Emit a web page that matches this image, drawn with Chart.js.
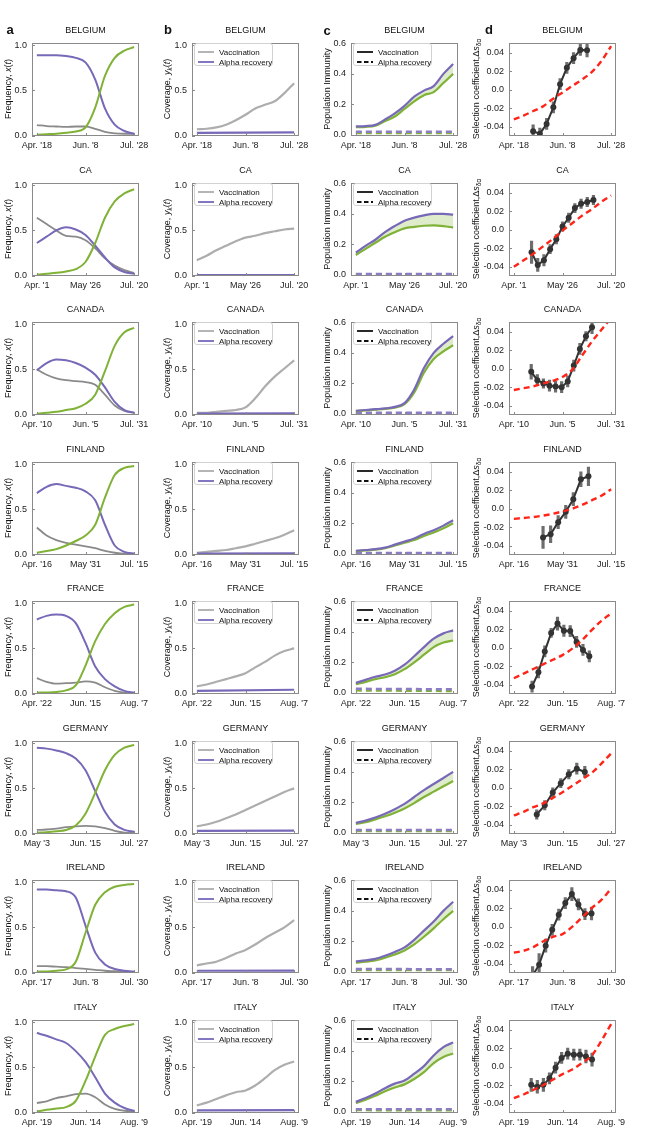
<!DOCTYPE html>
<html>
<head>
<meta charset="utf-8">
<script src="https://cdn.jsdelivr.net/npm/chart.js@4.4.1/dist/chart.umd.min.js"></script>
<style>
  body { margin: 0; background: #fff; width: 648px; height: 1134px; position: relative; overflow: hidden;
         font-family: "Liberation Sans", Arial, sans-serif; color: #111; }
  canvas { position: absolute; }
  .t { position: absolute; transform: translate(-50%, -50%); white-space: nowrap; font-size: 9px; }
  .yt { position: absolute; transform: translate(-50%, -50%) rotate(-90deg); white-space: nowrap; font-size: 9px; }
  .yt sub { font-size: 6.5px; vertical-align: -2px; }
  .letter { position: absolute; transform: translate(-50%, -50%); font-weight: bold; font-size: 13px; }
  .leg { position: absolute; box-sizing: border-box; border: 1px solid #d2d2d2; border-radius: 3px;
         background: rgba(255,255,255,0.85); width: 79px; height: 23px; font-size: 8px; }
  .leg svg { position: absolute; }
  .leg span { position: absolute; transform: translateY(-50%); white-space: nowrap; }
</style>
</head>
<body>
<script>
// countries (rows) and their date axes
const countries = ['BELGIUM', 'CA', 'CANADA', 'FINLAND', 'FRANCE', 'GERMANY', 'IRELAND', 'ITALY'];
const dateTicks = [
  ["Apr. '18", "Jun. '8", "Jul. '28"],
  ["Apr. '1", "May '26", "Jul. '20"],
  ["Apr. '10", "Jun. '5", "Jul. '31"],
  ["Apr. '16", "May '31", "Jul. '15"],
  ["Apr. '22", "Jun. '15", "Aug. '7"],
  ["May '3", "Jun. '15", "Jul. '27"],
  ["Apr. '17", "Jun. '8", "Jul. '30"],
  ["Apr. '19", "Jun. '14", "Aug. '9"]
];
const periodDays = [101, 110, 112, 90, 107, 85, 104, 112];

// sample positions, % of each country's period
const pct = [0, 10, 20, 30, 40, 50, 60, 70, 80, 90, 100];
const flatPct = [0, 100];

// a: variant frequencies
const freqOther = [
  [0.115, 0.105, 0.10, 0.095, 0.10, 0.10, 0.075, 0.04, 0.025, 0.02, 0.02],
  [0.64, 0.57, 0.50, 0.44, 0.43, 0.39, 0.30, 0.19, 0.11, 0.06, 0.03],
  [0.50, 0.44, 0.40, 0.38, 0.37, 0.36, 0.33, 0.22, 0.10, 0.04, 0.02],
  [0.30, 0.21, 0.16, 0.13, 0.11, 0.09, 0.07, 0.04, 0.02, 0.01, 0.01],
  [0.17, 0.13, 0.11, 0.115, 0.12, 0.135, 0.12, 0.07, 0.03, 0.01, 0.005],
  [0.04, 0.045, 0.055, 0.07, 0.08, 0.085, 0.08, 0.06, 0.03, 0.01, 0.005],
  [0.07, 0.07, 0.065, 0.06, 0.05, 0.04, 0.03, 0.02, 0.015, 0.01, 0.01],
  [0.105, 0.125, 0.16, 0.18, 0.205, 0.21, 0.17, 0.09, 0.04, 0.02, 0.012]
];
const freqAlpha = [
  [0.89, 0.89, 0.89, 0.88, 0.86, 0.81, 0.62, 0.30, 0.12, 0.05, 0.02],
  [0.36, 0.43, 0.50, 0.535, 0.51, 0.45, 0.33, 0.20, 0.09, 0.04, 0.02],
  [0.49, 0.57, 0.61, 0.60, 0.57, 0.52, 0.44, 0.30, 0.14, 0.05, 0.02],
  [0.68, 0.75, 0.78, 0.76, 0.74, 0.70, 0.60, 0.33, 0.10, 0.03, 0.01],
  [0.82, 0.86, 0.875, 0.86, 0.78, 0.56, 0.30, 0.16, 0.08, 0.03, 0.01],
  [0.95, 0.94, 0.92, 0.89, 0.83, 0.70, 0.47, 0.24, 0.10, 0.04, 0.02],
  [0.92, 0.92, 0.91, 0.90, 0.83, 0.52, 0.22, 0.09, 0.04, 0.02, 0.01],
  [0.88, 0.85, 0.81, 0.77, 0.68, 0.56, 0.39, 0.21, 0.11, 0.05, 0.02]
];
const freqDelta = [
  [0.01, 0.015, 0.02, 0.03, 0.045, 0.09, 0.31, 0.66, 0.86, 0.94, 0.98],
  [0.01, 0.02, 0.03, 0.045, 0.07, 0.15, 0.36, 0.64, 0.82, 0.91, 0.955],
  [0.01, 0.02, 0.03, 0.05, 0.07, 0.12, 0.22, 0.48, 0.76, 0.91, 0.96],
  [0.02, 0.04, 0.06, 0.10, 0.15, 0.21, 0.33, 0.63, 0.88, 0.96, 0.98],
  [0.01, 0.012, 0.018, 0.035, 0.09, 0.31, 0.58, 0.77, 0.89, 0.96, 0.985],
  [0.01, 0.015, 0.025, 0.04, 0.09, 0.22, 0.45, 0.70, 0.87, 0.95, 0.98],
  [0.01, 0.012, 0.02, 0.035, 0.12, 0.44, 0.75, 0.89, 0.95, 0.97, 0.98],
  [0.012, 0.03, 0.045, 0.06, 0.13, 0.35, 0.62, 0.86, 0.925, 0.957, 0.98]
];

// b: coverage
const vaccCov = [
  [0.07, 0.075, 0.09, 0.12, 0.17, 0.23, 0.30, 0.34, 0.38, 0.47, 0.58],
  [0.17, 0.22, 0.28, 0.33, 0.38, 0.42, 0.44, 0.47, 0.49, 0.51, 0.52],
  [0.02, 0.02, 0.03, 0.04, 0.05, 0.08, 0.18, 0.31, 0.42, 0.51, 0.60],
  [0.02, 0.03, 0.04, 0.05, 0.07, 0.09, 0.12, 0.15, 0.18, 0.22, 0.27],
  [0.08, 0.10, 0.13, 0.16, 0.19, 0.225, 0.29, 0.35, 0.42, 0.47, 0.50],
  [0.08, 0.10, 0.13, 0.17, 0.21, 0.26, 0.31, 0.36, 0.41, 0.46, 0.50],
  [0.08, 0.10, 0.12, 0.16, 0.21, 0.25, 0.31, 0.38, 0.44, 0.50, 0.58],
  [0.08, 0.11, 0.15, 0.19, 0.225, 0.245, 0.30, 0.38, 0.47, 0.53, 0.565]
];
const alphaCov = [
  [0.03, 0.035], [0.004, 0.004], [0.01, 0.012], [0.01, 0.012],
  [0.03, 0.042], [0.03, 0.032], [0.02, 0.022], [0.025, 0.027]
];

// c: population immunity
const immAlpha = [
  [0.055, 0.057, 0.065, 0.10, 0.14, 0.19, 0.25, 0.29, 0.32, 0.40, 0.465],
  [0.145, 0.19, 0.23, 0.28, 0.32, 0.355, 0.375, 0.39, 0.40, 0.40, 0.395],
  [0.02, 0.025, 0.03, 0.035, 0.045, 0.07, 0.16, 0.30, 0.40, 0.46, 0.51],
  [0.02, 0.025, 0.03, 0.04, 0.06, 0.08, 0.10, 0.13, 0.155, 0.185, 0.22],
  [0.065, 0.085, 0.105, 0.12, 0.145, 0.185, 0.24, 0.30, 0.355, 0.39, 0.41],
  [0.065, 0.08, 0.10, 0.125, 0.155, 0.19, 0.235, 0.28, 0.32, 0.36, 0.40],
  [0.068, 0.075, 0.085, 0.105, 0.13, 0.16, 0.21, 0.27, 0.33, 0.40, 0.46],
  [0.065, 0.09, 0.12, 0.155, 0.185, 0.205, 0.25, 0.30, 0.37, 0.425, 0.455]
];
const immDelta = [
  [0.05, 0.052, 0.06, 0.09, 0.12, 0.17, 0.22, 0.26, 0.28, 0.34, 0.40],
  [0.13, 0.17, 0.21, 0.25, 0.28, 0.305, 0.315, 0.322, 0.325, 0.32, 0.31],
  [0.018, 0.022, 0.027, 0.032, 0.04, 0.063, 0.14, 0.27, 0.36, 0.41, 0.45],
  [0.018, 0.022, 0.027, 0.036, 0.054, 0.072, 0.09, 0.117, 0.14, 0.168, 0.20],
  [0.056, 0.072, 0.09, 0.102, 0.122, 0.155, 0.20, 0.25, 0.30, 0.33, 0.343],
  [0.058, 0.07, 0.088, 0.108, 0.132, 0.16, 0.195, 0.235, 0.27, 0.305, 0.34],
  [0.06, 0.066, 0.075, 0.092, 0.113, 0.14, 0.18, 0.23, 0.285, 0.345, 0.40],
  [0.058, 0.08, 0.105, 0.135, 0.16, 0.18, 0.215, 0.26, 0.32, 0.36, 0.383]
];
const immAlphaRec = [
  [0.02, 0.02], [0.005, 0.005], [0.006, 0.006], [0.005, 0.005],
  [0.026, 0.023], [0.018, 0.018], [0.018, 0.017], [0.017, 0.016]
];
const immDeltaRec = [
  [0.012, 0.012], [0.004, 0.004], [0.004, 0.004], [0.004, 0.004],
  [0.016, 0.012], [0.012, 0.011], [0.012, 0.011], [0.011, 0.01]
];

// d: selection coefficient, weekly estimates (day of period) and prediction
const selDays = [
  [20, 27, 34, 41, 48, 55, 62, 69, 76],
  [20, 27, 34, 41, 48, 55, 62, 69, 76, 83, 90],
  [20, 27, 34, 41, 48, 55, 62, 69, 76, 83, 90],
  [27, 34, 41, 48, 55, 62, 69],
  [20, 27, 34, 41, 48, 55, 62, 69, 76, 83],
  [20, 27, 34, 41, 48, 55, 62],
  [20, 27, 34, 41, 48, 55, 62, 69, 76, 83],
  [20, 27, 34, 41, 48, 55, 62, 69, 76, 83, 90]
];
const selVal = [
  [-0.045, -0.0475, -0.037, -0.019, 0.006, 0.0236, 0.034, 0.043, 0.0425],
  [-0.0243, -0.038, -0.033, -0.021, -0.0104, 0.0035, 0.0129, 0.0233, 0.028, 0.030, 0.032],
  [-0.0034, -0.0124, -0.0159, -0.0183, -0.0193, -0.020, -0.0138, 0.0034, 0.0214, 0.035, 0.0448],
  [-0.031, -0.0276, -0.0145, -0.0034, 0.0103, 0.0317, 0.035],
  [-0.042, -0.0266, -0.004, 0.016, 0.026, 0.0183, 0.018, 0.0062, -0.0024, -0.0093],
  [-0.0289, -0.019, -0.0052, 0.0049, 0.0146, 0.0205, 0.017],
  [-0.053, -0.041, -0.0205, -0.0034, 0.013, 0.0255, 0.0352, 0.024, 0.0137, 0.0143],
  [-0.0196, -0.0216, -0.0196, -0.0126, -0.001, 0.0095, 0.014, 0.013, 0.013, 0.011, 0.0077]
];
const selErr = [
  [0.007, 0.006, 0.006, 0.006, 0.006, 0.006, 0.006, 0.006, 0.007],
  [0.012, 0.007, 0.006, 0.005, 0.005, 0.005, 0.005, 0.005, 0.005, 0.005, 0.005],
  [0.008, 0.006, 0.005, 0.006, 0.006, 0.006, 0.006, 0.006, 0.006, 0.005, 0.007],
  [0.012, 0.009, 0.007, 0.007, 0.007, 0.008, 0.01],
  [0.006, 0.006, 0.006, 0.005, 0.007, 0.006, 0.006, 0.006, 0.006, 0.006],
  [0.005, 0.005, 0.005, 0.005, 0.005, 0.006, 0.006],
  [0.01, 0.012, 0.007, 0.006, 0.006, 0.006, 0.007, 0.006, 0.006, 0.007],
  [0.007, 0.007, 0.007, 0.006, 0.006, 0.006, 0.006, 0.006, 0.006, 0.007, 0.007]
];
const predS = [
  [-0.032, -0.028, -0.023, -0.018, -0.010, -0.003, 0.004, 0.011, 0.019, 0.031, 0.047],
  [-0.040, -0.033, -0.026, -0.018, -0.010, -0.001, 0.007, 0.015, 0.022, 0.030, 0.037],
  [-0.023, -0.021, -0.019, -0.016, -0.013, -0.009, -0.001, 0.014, 0.029, 0.042, 0.055],
  [-0.011, -0.010, -0.009, -0.0075, -0.0055, -0.003, 0.0, 0.004, 0.009, 0.014, 0.021],
  [-0.033, -0.028, -0.023, -0.018, -0.013, -0.008, -0.001, 0.008, 0.019, 0.029, 0.037],
  [-0.030, -0.026, -0.021, -0.017, -0.011, -0.005, 0.002, 0.009, 0.016, 0.026, 0.037],
  [-0.028, -0.026, -0.022, -0.016, -0.011, -0.008, 0.0, 0.010, 0.020, 0.029, 0.041],
  [-0.034, -0.030, -0.025, -0.020, -0.014, -0.008, -0.003, 0.004, 0.012, 0.028, 0.046]
];

// layout
const colLeft = [32, 192, 351, 509];
const PLOT_W = 107, PLOT_H = 95;
const Y_W = 40, PAD_T = 8, PAD_R = 22, X_H = 22;
const rowTop = r => Math.round(41 + 139.5 * r);
const FONT = "'Liberation Sans', Arial, sans-serif";

const PURPLE = '#7868b8', GREEN = '#7fb236', GRAY = '#8a8a8a', LGRAY = '#adadad';
const PURPLE_D = '#8b7cc4', GREEN_D = '#80b33a', FILL = 'rgba(184,212,140,0.45)';
const RED = '#ff2418', DARK = '#333333';

const pts = (xs, ys) => xs.map((x, i) => ({ x: x, y: ys[i] }));

const framePlugin = {
  id: 'frame',
  afterDatasetsDraw(chart) {
    const { ctx, chartArea: a, scales } = chart;
    ctx.save();
    ctx.strokeStyle = '#8a8a8a';
    ctx.lineWidth = 1;
    ctx.strokeRect(Math.round(a.left) + 0.5, Math.round(a.top) + 0.5,
                   Math.round(a.right - a.left) - 1, Math.round(a.bottom - a.top) - 1);
    ctx.beginPath();
    scales.x.ticks.forEach(t => {
      const px = Math.round(scales.x.getPixelForValue(t.value)) + 0.5;
      ctx.moveTo(px, a.bottom); ctx.lineTo(px, a.bottom - 3);
    });
    scales.y.ticks.forEach(t => {
      const py = Math.round(scales.y.getPixelForValue(t.value)) + 0.5;
      ctx.moveTo(a.left, py); ctx.lineTo(a.left + 3, py);
    });
    ctx.stroke();
    ctx.restore();
  }
};

function addChart(col, row, datasets, yMin, yMax, yTicks, yFmt) {
  const cv = document.createElement('canvas');
  cv.width = Y_W + PLOT_W + PAD_R;
  cv.height = PAD_T + PLOT_H + X_H;
  cv.style.left = (colLeft[col] - Y_W) + 'px';
  cv.style.top = (rowTop(row) - PAD_T) + 'px';
  document.body.appendChild(cv);
  const labels = dateTicks[row];
  new Chart(cv, {
    type: 'line',
    data: { datasets: datasets },
    options: {
      responsive: false, animation: false, devicePixelRatio: 1,
      layout: { padding: { top: PAD_T, right: PAD_R, bottom: 0, left: 0 } },
      plugins: { legend: { display: false }, tooltip: { enabled: false } },
      scales: {
        x: {
          type: 'linear', min: -5, max: 105, offset: false,
          afterBuildTicks: s => { s.ticks = [0, 50, 100].map(v => ({ value: v })); },
          afterFit: s => { s.height = X_H; },
          ticks: { callback: (v, i) => labels[i], font: { family: FONT, size: 9 }, color: '#222',
                   padding: 4, maxRotation: 0, autoSkip: false },
          grid: { display: false, drawTicks: false }, border: { display: false }
        },
        y: {
          min: yMin, max: yMax,
          afterBuildTicks: s => { s.ticks = yTicks.map(v => ({ value: v })); },
          afterFit: s => { s.width = Y_W; },
          ticks: { callback: v => yFmt(v), font: { family: FONT, size: 9 }, color: '#222', padding: 5 },
          grid: { display: false, drawTicks: false }, border: { display: false }
        }
      }
    },
    plugins: [framePlugin]
  });
}

function addText(cls, x, y, html) {
  const d = document.createElement('div');
  d.className = cls;
  d.style.left = x + 'px';
  d.style.top = y + 'px';
  d.innerHTML = html;
  document.body.appendChild(d);
}

function addLegend(col, row, items) {
  const d = document.createElement('div');
  d.className = 'leg';
  d.style.left = (colLeft[col] + 2) + 'px';
  d.style.top = (rowTop(row) + 2) + 'px';
  let html = '';
  items.forEach((it, i) => {
    const cy = 7.5 + i * 10.5;
    html += '<svg width="16" height="4" style="left:3px;top:' + (cy - 2) + 'px">' +
      '<line x1="0" y1="2" x2="16" y2="2" stroke="' + it.color + '" stroke-width="1.8"' +
      (it.dash ? ' stroke-dasharray="4.5,2.5"' : '') + '/></svg>' +
      '<span style="left:24px;top:' + cy + 'px">' + it.label + '</span>';
  });
  d.innerHTML = html;
  document.body.appendChild(d);
}

const fmt1 = v => v.toFixed(1);
const fmtS = v => (Math.abs(v) < 1e-9 ? '0.0' : v.toFixed(2));
const curve = (ys, color, w, extra) => Object.assign({
  data: pts(pct, ys), borderColor: color, borderWidth: w, pointRadius: 0,
  cubicInterpolationMode: 'monotone', fill: false
}, extra || {});

countries.forEach((name, r) => {
  const top = rowTop(r);
  const period = periodDays[r];

  // a
  addChart(0, r, [
    curve(freqDelta[r], GREEN, 2),
    curve(freqAlpha[r], PURPLE, 2),
    curve(freqOther[r], GRAY, 1.8)
  ], -0.005, 1.02, [0, 0.5, 1], fmt1);

  // b
  addChart(1, r, [
    { data: pts(flatPct, alphaCov[r]), borderColor: PURPLE, borderWidth: 2.2, pointRadius: 0 },
    curve(vaccCov[r], LGRAY, 2.2)
  ], -0.005, 1.02, [0, 0.5, 1], fmt1);

  // c
  addChart(2, r, [
    curve(immAlpha[r], PURPLE, 2.2),
    curve(immDelta[r], GREEN, 2.2, { fill: '-1', backgroundColor: FILL }),
    { data: pts(flatPct, immAlphaRec[r]), borderColor: PURPLE_D, borderWidth: 2.5, borderDash: [6, 4], pointRadius: 0 },
    { data: pts(flatPct, immDeltaRec[r]), borderColor: GREEN_D, borderWidth: 2.5, borderDash: [6, 4], pointRadius: 0 }
  ], -0.008, 0.6, [0, 0.2, 0.4, 0.6], fmt1);

  // d
  const sx = selDays[r].map(d => d / period * 100);
  addChart(3, r, [
    curve(predS[r], RED, 2.4, { borderDash: [6, 4] }),
    { data: pts(sx, selVal[r]), borderColor: DARK, borderWidth: 2, pointRadius: 3,
      pointBackgroundColor: DARK, pointBorderWidth: 0 },
    { type: 'bar', data: sx.map((x, i) => ({ x: x, y: [selVal[r][i] - selErr[r][i], selVal[r][i] + selErr[r][i]] })),
      backgroundColor: 'rgba(60,60,60,0.75)', barThickness: 2.5, borderWidth: 0 }
  ], -0.05, 0.05, [-0.04, -0.02, 0, 0.02, 0.04], fmtS);

  // titles
  colLeft.forEach(cl => addText('t', cl + PLOT_W / 2, top - 11, name));

  // axis titles
  const cy = top + PLOT_H / 2;
  addText('yt', 8, cy, 'Frequency, <i>x</i>(<i>t</i>)');
  addText('yt', 167, cy, 'Coverage, <i>y</i><sub><i>k</i></sub>(<i>t</i>)');
  addText('yt', 327, cy, 'Population Immunity');
  addText('yt', 476, cy, 'Selection coefficient,Δ<i>s</i><sub>δα</sub>');

  // legends
  addLegend(1, r, [{ label: 'Vaccination', color: LGRAY }, { label: 'Alpha recovery', color: PURPLE }]);
  addLegend(2, r, [{ label: 'Vaccination', color: '#111' }, { label: 'Alpha recovery', color: '#111', dash: true }]);
});

// panel letters
addText('letter', 10, 29, 'a');
addText('letter', 168, 29, 'b');
addText('letter', 327, 30, 'c');
addText('letter', 489, 29, 'd');
</script>
</body>
</html>
